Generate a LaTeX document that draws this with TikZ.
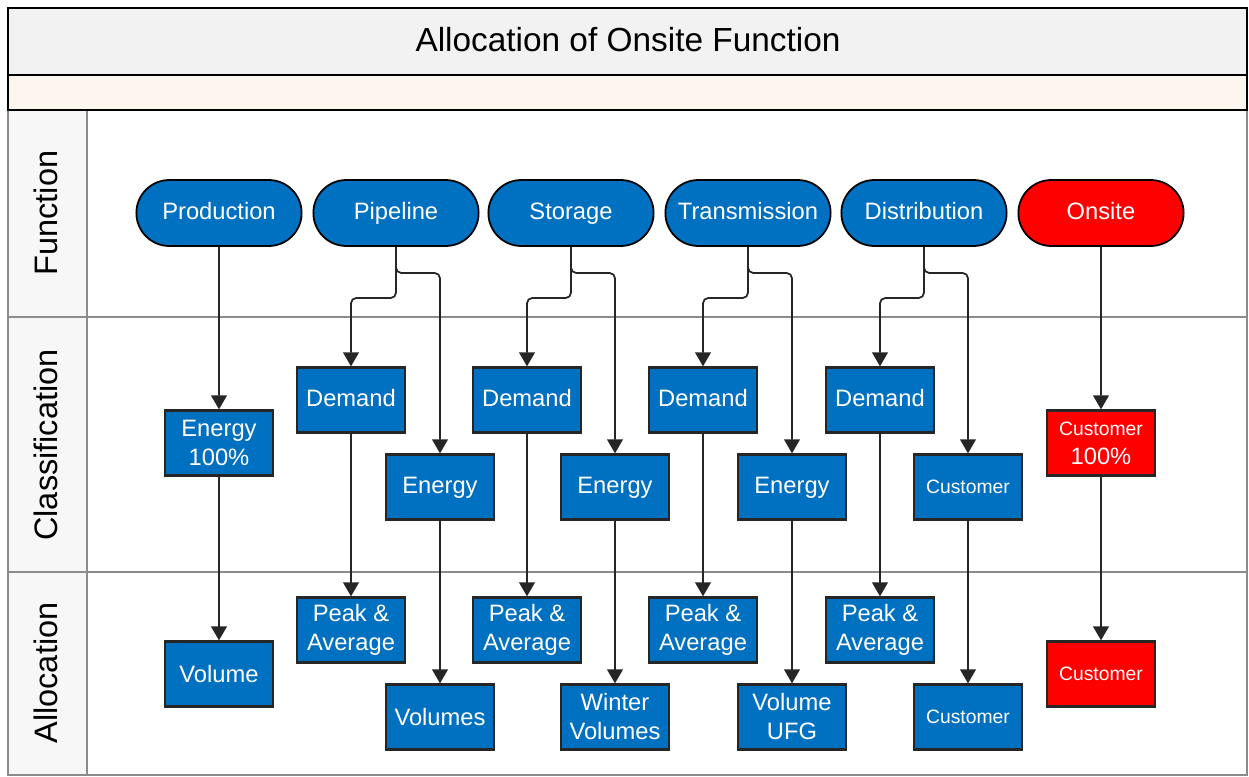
\documentclass[tikz,border=0pt]{standalone}
\usepackage{fontspec}
\setmainfont{Liberation Sans}
\usetikzlibrary{shapes.misc,arrows.meta}
\definecolor{bleu}{HTML}{0070C0}
\definecolor{rouge}{HTML}{FF0000}
\definecolor{grisclair}{HTML}{F2F2F2}
\definecolor{peche}{HTML}{FDF6EE}
\definecolor{trait}{HTML}{8C8C8C}
\tikzstyle{fonction} = [rounded rectangle, draw=black, line width=1pt, fill=bleu, text=white, minimum width=3.54cm, minimum height=1.32cm, text height=1.8ex, text depth=.4ex, font=\fontsize{13.5}{16}\selectfont]
\tikzstyle{classe} = [rectangle, draw=black!85, line width=1.3pt, fill=bleu, text=white, minimum width=2.16cm, minimum height=1.3cm, align=center, font=\fontsize{13.5}{16.5}\selectfont]
\tikzstyle{simple} = [text height=1.8ex, text depth=.4ex]
\tikzstyle{petit} = [font=\fontsize{11}{16.5}\selectfont]
\tikzstyle{fleche} = [draw=black!85, line width=1pt, rounded corners=3pt, -{Triangle[width=9pt,length=8pt]}]
\tikzstyle{couloir} = [font=\fontsize{18.5}{22}\selectfont, rotate=90]

\begin{document}
\begin{tikzpicture}[x=0.02cm, y=-0.02cm]
    \useasboundingbox (0,0) rectangle (1249,777);

    % cadre et couloirs
    \fill [white] (8,110) rectangle (1247,775);
    \fill [grisclair!60] (8,110) rectangle (87,775);
    \draw [trait, line width=1pt] (8,110) rectangle (1247,775);
    \draw [trait, line width=1pt] (87,110) -- (87,775);
    \draw [trait, line width=1pt] (8,317) -- (1247,317);
    \draw [trait, line width=1pt] (8,572) -- (1247,572);
    \draw [black, line width=1.2pt, fill=grisclair] (8,8) rectangle (1247,75);
    \draw [black, line width=1.2pt, fill=peche] (8,75) rectangle (1247,110);

    \node (titre) at (628,40) {\fontsize{19}{22}\selectfont Allocation of Onsite Function};
    \node [couloir] (lfonc) at (46,213) {Function};
    \node [couloir] (lclass) at (46,445) {Classification};
    \node [couloir] (lalloc) at (46,673) {Allocation};

    % fonctions
    \node [fonction] (prod) at (219,213) {Production};
    \node [fonction] (pipe) at (396,213) {Pipeline};
    \node [fonction] (stor) at (571,213) {Storage};
    \node [fonction] (trans) at (748,213) {Transmission};
    \node [fonction] (dist) at (924,213) {Distribution};
    \node [fonction, fill=rouge] (onsite) at (1101,213) {Onsite};

    % classification
    \node [classe] (prodcl) at (219,443) {Energy\\100\%};
    \node [classe, simple] (pipedem) at (351,400) {Demand};
    \node [classe, simple] (pipeen) at (440,487) {Energy};
    \node [classe, simple] (stordem) at (527,400) {Demand};
    \node [classe, simple] (storen) at (615,487) {Energy};
    \node [classe, simple] (transdem) at (703,400) {Demand};
    \node [classe, simple] (transen) at (792,487) {Energy};
    \node [classe, simple] (distdem) at (880,400) {Demand};
    \node [classe, petit] (distcus) at (968,487) {Customer};
    \node [classe, fill=rouge] (onsitecl) at (1101,443) {{\fontsize{11}{13}\selectfont Customer}\\100\%};

    % allocation
    \node [classe] (prodal) at (219,674) {Volume};
    \node [classe] (pipepk) at (351,630) {Peak \&\\Average};
    \node [classe] (pipevol) at (440,717) {Volumes};
    \node [classe] (storpk) at (527,630) {Peak \&\\Average};
    \node [classe] (storvol) at (615,717) {Winter\\Volumes};
    \node [classe] (transpk) at (703,630) {Peak \&\\Average};
    \node [classe] (transvol) at (792,717) {Volume\\UFG};
    \node [classe] (distpk) at (880,630) {Peak \&\\Average};
    \node [classe, petit] (distal) at (968,717) {Customer};
    \node [classe, petit, fill=rouge] (onsiteal) at (1101,674) {Customer};

    % fleches
    \coordinate (basg) at (0,298);
    \coordinate (basd) at (0,273);
    \draw [fleche] (prod) -- (prodcl);
    \draw [fleche] (prodcl) -- (prodal);
    \draw [fleche] (onsite) -- (onsitecl);
    \draw [fleche] (onsitecl) -- (onsiteal);
    \foreach \f/\g/\d/\h/\e in {pipe/pipedem/pipeen/pipepk/pipevol, stor/stordem/storen/storpk/storvol, trans/transdem/transen/transpk/transvol, dist/distdem/distcus/distpk/distal}
    {
        \draw [fleche] (\f.south) -- (\f.south |- basg) -- (\g.north |- basg) -- (\g.north);
        \draw [fleche] (\f.south) -- (\f.south |- basd) -- (\d.north |- basd) -- (\d.north);
        \draw [fleche] (\g) -- (\h);
        \draw [fleche] (\d) -- (\e);
    }
\end{tikzpicture}
\end{document}
